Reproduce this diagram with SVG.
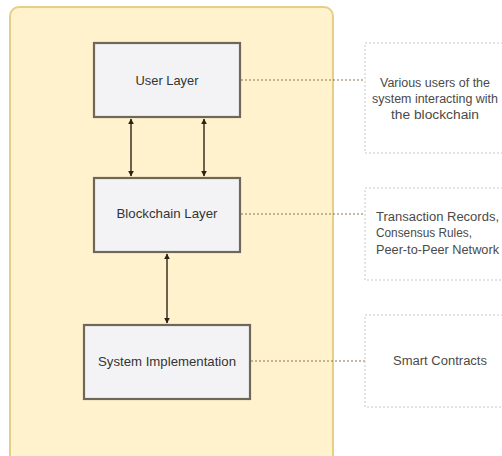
<svg xmlns="http://www.w3.org/2000/svg" width="502" height="456" viewBox="0 0 502 456">
  <style>
    .layer rect { fill: #f3f3f6; stroke: #6f675a; stroke-width: 2.2; }
    .layer text { font-family: "Liberation Sans", Arial, sans-serif; font-size: 13px; fill: #333333; text-anchor: middle; }
    .note rect { fill: #ffffff; stroke: #c8c8c8; stroke-width: 1; stroke-dasharray: 2 2; }
    .note text { font-family: "Liberation Sans", Arial, sans-serif; font-size: 12px; fill: #4a4a4a; }
    .arrow { stroke: #3b3024; stroke-width: 1.5; fill: none; marker-start: url(#head); marker-end: url(#head); }
    .link { stroke: #8a7748; stroke-width: 1; stroke-dasharray: 2 2; fill: none; }
  </style>
  <defs>
    <marker id="head" viewBox="0 0 10 10" refX="9" refY="5" markerWidth="6" markerHeight="6" orient="auto-start-reverse" markerUnits="userSpaceOnUse">
      <path d="M0,0 L10,5 L0,10 z" fill="#2b2218"/>
    </marker>
  </defs>

  <rect width="502" height="456" fill="#ffffff"/>

  <!-- container -->
  <g id="container">
    <rect x="10" y="7" width="323" height="460" rx="9" fill="#fff2cc" stroke="#e6cf85" stroke-width="2"/>
  </g>

  <!-- connectors -->
  <g id="connectors">
    <line class="arrow" x1="131" y1="119" x2="131" y2="176"/>
    <line class="arrow" x1="204" y1="119" x2="204" y2="176"/>
    <line class="arrow" x1="167" y1="254" x2="167" y2="323"/>
    <line class="link" x1="241" y1="80" x2="365" y2="80"/>
    <line class="link" x1="241" y1="214" x2="365" y2="214"/>
    <line class="link" x1="251" y1="361" x2="365" y2="361"/>
  </g>

  <g id="user-layer" class="layer">
    <rect x="94" y="43" width="146" height="74"/>
    <text x="167" y="85" textLength="63" lengthAdjust="spacingAndGlyphs">User Layer</text>
  </g>

  <g id="blockchain-layer" class="layer">
    <rect x="94" y="178" width="146" height="74"/>
    <text x="167" y="218" textLength="101" lengthAdjust="spacingAndGlyphs">Blockchain Layer</text>
  </g>

  <g id="system-implementation" class="layer">
    <rect x="84" y="325" width="166" height="74"/>
    <text x="167" y="366" textLength="138" lengthAdjust="spacingAndGlyphs">System Implementation</text>
  </g>

  <g id="note-users" class="note">
    <rect x="365" y="43" width="150" height="110"/>
    <text x="435" y="87" text-anchor="middle" textLength="110" lengthAdjust="spacingAndGlyphs">Various users of the</text>
    <text x="435" y="103" text-anchor="middle" textLength="126" lengthAdjust="spacingAndGlyphs">system interacting with</text>
    <text x="435" y="119" text-anchor="middle" textLength="88" lengthAdjust="spacingAndGlyphs">the blockchain</text>
  </g>

  <g id="note-blockchain" class="note">
    <rect x="365" y="188" width="150" height="92"/>
    <text x="376" y="221" textLength="123" lengthAdjust="spacingAndGlyphs">Transaction Records,</text>
    <text x="376" y="237" textLength="96" lengthAdjust="spacingAndGlyphs">Consensus Rules,</text>
    <text x="376" y="254" textLength="123" lengthAdjust="spacingAndGlyphs">Peer-to-Peer Network</text>
  </g>

  <g id="note-system" class="note">
    <rect x="365" y="315" width="150" height="92"/>
    <text x="440" y="365" text-anchor="middle" textLength="94" lengthAdjust="spacingAndGlyphs">Smart Contracts</text>
  </g>
</svg>
